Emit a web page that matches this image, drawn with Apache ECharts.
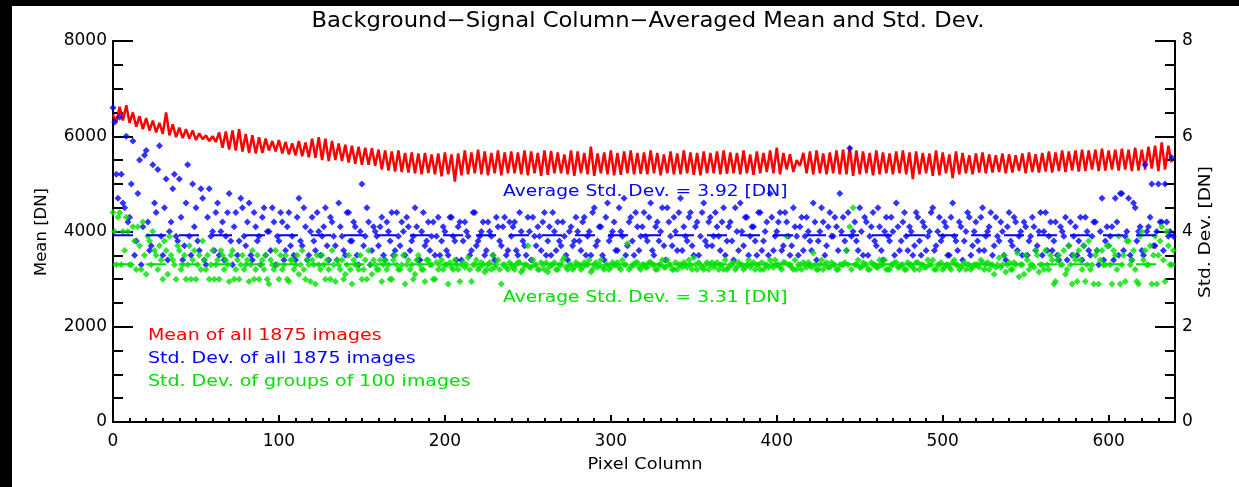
<!DOCTYPE html>
<html>
<head>
<meta charset="utf-8">
<script src="https://cdn.jsdelivr.net/npm/echarts@6/dist/echarts.min.js"></script>
<style>html,body{margin:0;padding:0;background:#fff}#c{width:1239px;height:487px}</style>
</head>
<body>
<div id="c"></div>
<script>
const xTickLabels = ['0','100','200','300','400','500','600'];
const leftTickLabels = ['0','2000','4000','6000','8000'];
const rightTickLabels = ['0','2','4','6','8'];

// Mean of all 1875 images [DN] (left axis), pixel columns 0,2,4,...,638
const meanDN = [
6450,6300,6620,6330,6650,6280,6500,6200,6420,6150,6380,6120,6330,6080,6280,6050,6500,6020,6250,5980,
6180,5960,6150,5950,6120,5920,6060,5940,6020,5900,6000,5880,6080,5760,6100,5720,6120,5700,6150,5680,
6050,5650,6020,5640,5980,5650,5950,5700,5900,5680,5920,5640,5880,5620,5850,5600,5900,5580,5870,5560,
5950,5550,5980,5500,5950,5480,5900,5500,5850,5480,5820,5450,5800,5420,5780,5400,5760,5400,5750,5380,
5720,5300,5700,5280,5680,5260,5700,5250,5650,5240,5660,5220,5640,5200,5650,5230,5620,5200,5640,5160,
5660,5200,5620,5050,5640,5180,5700,5200,5660,5220,5720,5200,5680,5180,5650,5220,5700,5180,5660,5220,
5680,5220,5660,5200,5700,5180,5680,5220,5650,5170,5700,5190,5690,5220,5660,5220,5620,5200,5700,5170,
5680,5220,5650,5200,5780,5170,5640,5220,5660,5200,5700,5180,5650,5190,5680,5220,5700,5200,5650,5210,
5660,5200,5700,5220,5650,5180,5620,5220,5680,5200,5640,5200,5700,5220,5660,5190,5650,5180,5680,5220,
5650,5220,5680,5200,5700,5210,5660,5220,5650,5200,5700,5220,5620,5190,5680,5220,5650,5250,5700,5220,
5760,5200,5650,5300,5620,5250,5500,5380,5650,5220,5680,5200,5700,5220,5640,5200,5660,5220,5700,5200,
5720,5200,5780,5170,5700,5200,5680,5220,5650,5180,5700,5200,5660,5220,5640,5200,5680,5220,5700,5200,
5660,5100,5680,5200,5650,5220,5640,5170,5700,5180,5660,5220,5620,5120,5680,5200,5650,5220,5600,5200,
5640,5240,5660,5220,5620,5240,5600,5250,5640,5220,5620,5240,5600,5270,5640,5220,5660,5250,5620,5240,
5650,5260,5680,5240,5660,5270,5700,5250,5680,5280,5700,5260,5720,5270,5700,5300,5720,5270,5740,5280,
5700,5300,5720,5280,5740,5300,5720,5270,5760,5280,5720,5300,5780,5320,5800,5270,5870,5300,5800,5450
];

// Std. Dev. of all 1875 images [DN] (right axis), even pixel columns 0,2,...,638
const stdAllEven = [
6.6,5.2,6.4,4.6,6.0,4.3,5.9,3.8,5.5,4.1,5.7,3.6,5.4,4.4,5.8,3.5,5.1,4.0,4.9,3.9,
5.1,3.4,4.6,3.9,5.0,4.5,3.6,4.7,3.3,4.9,4.0,4.4,3.5,4.2,3.9,4.8,3.3,4.4,3.8,4.5,
3.7,4.6,3.4,4.1,3.9,4.3,3.5,4.0,4.5,3.3,3.8,4.2,3.6,4.4,3.9,3.4,4.7,3.7,4.1,3.5,
4.3,3.6,4.0,3.9,4.5,3.4,4.2,3.7,4.6,3.9,3.5,4.4,3.8,4.1,3.3,5.0,3.9,4.2,3.6,4.0,
3.7,4.3,3.4,4.0,4.4,3.6,3.9,4.2,3.5,4.1,3.8,4.5,3.4,4.0,3.7,4.2,3.9,3.5,4.3,3.8,
4.0,3.5,4.3,3.8,4.1,3.4,4.2,3.9,3.6,4.4,3.8,4.0,3.5,4.2,3.9,3.4,4.1,3.7,4.3,3.6,
3.9,4.2,3.5,4.0,3.7,4.3,3.4,3.9,4.1,3.6,4.4,3.8,3.5,4.0,4.2,3.7,3.9,3.4,4.1,3.8,
4.0,3.6,4.3,3.9,3.5,4.5,3.8,4.1,3.4,4.6,3.9,4.2,3.6,4.0,4.7,3.7,4.3,3.5,4.1,3.9,
4.4,3.8,4.6,3.5,4.2,4.0,3.7,4.5,3.9,4.3,3.6,4.7,4.1,3.8,4.4,3.5,4.2,3.9,4.6,3.7,
4.3,3.9,4.1,3.6,4.5,3.8,4.2,3.4,4.0,4.6,3.7,4.3,3.9,4.1,3.5,4.4,3.8,4.2,4.8,3.6,
4.0,4.4,3.7,4.2,3.5,4.5,3.9,4.1,3.6,4.3,3.8,4.6,3.4,4.0,4.2,3.7,4.4,3.9,4.1,4.8,
4.3,3.6,5.75,4.0,3.8,4.5,3.5,4.2,3.9,4.4,3.7,4.1,3.4,4.3,3.8,4.0,4.6,3.6,4.2,3.9,
4.1,3.5,4.4,3.8,4.2,3.6,4.0,4.5,3.7,4.3,3.9,4.1,3.5,4.6,3.8,4.2,3.4,4.0,4.3,3.7,
4.2,3.6,4.5,3.9,4.1,3.5,4.3,3.8,4.0,3.4,4.4,3.7,4.2,3.9,3.5,4.1,3.8,4.3,3.6,4.0,
3.5,4.4,3.9,3.6,4.2,3.4,4.0,4.3,3.7,3.5,4.1,3.8,3.4,4.3,3.6,3.9,4.2,3.3,4.7,3.8,
3.7,4.1,4.7,3.5,4.8,3.9,4.7,3.4,4.5,4.0,3.6,5.4,4.1,5.0,3.7,5.0,4.2,5.0,3.9,5.55
];

// Std. Dev. of all 1875 images [DN] (right axis), odd pixel columns 1,3,...,639
const stdAllOdd = [
6.3,4.7,5.2,4.5,4.2,5.0,3.5,4.8,3.3,5.6,4.2,3.7,4.6,5.3,3.9,4.5,3.4,4.2,5.2,3.8,
4.3,3.7,5.4,3.5,4.1,3.8,4.9,3.4,4.3,3.9,3.6,4.6,4.0,3.4,4.4,3.8,4.1,3.5,4.7,3.9,
4.2,3.5,4.4,3.8,3.3,4.5,4.0,3.6,4.2,3.9,4.4,3.4,4.1,3.7,3.5,4.3,3.8,4.5,3.4,4.0,
3.8,4.4,3.5,4.1,3.7,4.3,3.9,3.4,4.1,3.6,4.4,3.8,4.2,3.5,4.0,3.7,4.5,3.3,4.1,3.9,
4.1,3.5,4.2,3.8,3.5,4.4,3.7,4.0,4.3,3.6,3.9,4.1,3.4,4.4,3.8,3.6,4.2,3.9,3.5,4.1,
3.6,4.3,3.9,3.4,4.2,3.8,4.0,3.5,4.4,3.7,3.9,4.2,3.6,4.0,3.5,4.3,3.8,4.1,3.5,4.2,
4.1,3.6,4.4,3.8,3.5,4.0,4.3,3.7,3.9,4.2,3.5,4.1,4.4,3.6,3.8,4.2,3.5,4.0,3.7,4.3,
3.8,4.2,3.5,4.0,4.4,3.7,4.1,3.5,4.3,3.8,4.0,3.6,4.5,3.9,3.5,4.2,3.8,4.4,3.6,4.1,
3.9,4.3,3.6,4.1,3.8,4.5,3.4,4.2,3.7,4.0,4.4,3.6,3.9,4.3,3.7,4.1,3.5,4.4,3.8,4.2,
3.7,4.4,3.9,4.2,3.5,4.1,3.8,4.5,3.6,4.0,4.3,3.5,4.1,3.8,4.4,3.6,4.0,3.5,4.3,3.9,
4.2,3.6,4.4,3.9,3.7,4.1,3.5,4.3,3.9,4.0,3.6,4.2,3.8,4.5,3.5,4.1,3.9,4.3,3.6,4.0,
3.8,4.4,3.9,4.2,3.6,4.0,4.3,3.5,4.1,3.8,4.5,3.6,4.0,3.9,4.3,3.5,4.1,3.8,4.4,3.6,
4.0,3.7,4.3,3.5,4.1,3.9,4.4,3.6,4.0,3.8,4.2,3.5,4.3,3.9,3.6,4.1,3.8,4.4,3.5,4.0,
3.8,4.3,3.6,4.0,4.4,3.7,3.9,4.2,3.5,4.1,3.8,4.3,3.6,4.0,4.2,3.5,3.9,4.1,3.7,4.4,
4.0,3.6,4.2,3.8,3.5,4.1,3.9,3.4,4.2,3.9,3.5,4.3,3.7,4.0,3.5,4.2,3.6,4.0,3.4,4.1,
3.9,3.4,4.2,4.8,3.6,4.0,3.5,4.6,3.8,4.1,3.5,4.0,4.3,3.7,4.0,4.2,3.6,4.2,4.0,3.9
];

// Std. Dev. of groups of 100 images [DN] (right axis), even pixel columns 0,2,...,638
const stdGroupsEven = [
4.4,3.3,4.4,4.0,4.3,3.3,4.1,3.2,3.7,4.2,3.1,3.8,4.0,3.5,3.7,3.0,3.6,3.9,3.4,3.0,
3.6,3.3,3.0,3.7,3.4,3.0,3.5,3.8,3.2,3.0,3.6,3.3,3.0,3.5,3.4,2.95,3.6,3.2,3.0,3.5,
3.3,2.95,3.6,3.2,3.0,3.4,3.5,2.9,3.3,3.6,3.0,3.2,3.5,2.95,3.4,3.3,3.1,3.6,3.0,3.3,
3.4,2.9,3.3,3.5,3.0,3.2,3.6,2.95,3.3,3.4,3.1,3.5,2.9,3.3,3.2,3.0,3.4,3.6,3.1,3.3,
3.2,2.95,3.4,3.3,3.0,3.5,3.2,3.3,2.9,3.4,3.3,3.1,3.5,3.2,2.95,3.4,3.3,3.0,3.2,3.4,
3.3,2.9,3.25,3.4,3.2,3.3,3.25,3.45,2.95,3.3,3.2,3.35,3.15,3.3,3.2,3.25,3.4,2.9,3.3,3.2,
3.3,3.2,3.35,3.15,3.3,3.7,3.25,3.3,3.2,3.35,3.2,3.15,3.3,3.35,3.2,3.3,3.45,3.2,3.3,3.25,
3.3,3.2,3.35,3.3,3.15,3.3,3.25,3.4,3.2,3.3,3.25,3.3,3.35,3.2,3.3,3.75,3.25,3.3,3.35,3.2,
3.3,3.25,3.35,3.3,3.2,3.3,3.25,3.4,3.3,3.2,3.2,3.3,3.35,3.25,3.3,3.45,3.2,3.3,3.2,3.35,
3.3,3.25,3.35,3.3,3.2,3.2,3.3,3.35,3.25,3.3,3.2,3.3,3.25,3.35,3.3,3.2,3.2,3.3,3.4,3.25,
3.3,3.25,3.35,3.9,3.3,3.2,3.2,3.3,3.35,3.25,3.3,3.55,3.2,3.3,3.2,3.35,3.25,3.3,3.2,3.3,
3.3,3.6,4.1,4.5,3.3,3.25,3.35,3.3,3.2,3.3,3.25,3.4,3.3,3.2,3.2,3.3,3.35,3.25,3.3,3.2,
3.3,3.25,3.35,3.2,3.3,3.25,3.3,3.4,3.2,3.3,3.2,3.3,3.25,3.35,3.3,3.2,3.3,3.2,3.3,3.25,
3.3,3.25,3.35,3.3,3.2,3.3,3.25,3.45,3.3,3.15,3.35,3.2,3.3,3.05,3.3,3.5,3.2,3.3,3.6,3.15,
3.3,3.6,3.2,3.4,2.95,3.5,3.3,3.1,3.7,2.9,3.4,3.6,3.2,2.95,3.8,3.3,3.5,2.9,3.6,3.3,
3.7,2.9,3.5,3.9,3.3,2.95,3.8,3.4,3.2,2.9,4.0,3.6,3.3,2.9,3.9,3.5,4.1,2.95,3.7,3.3
];

// Std. Dev. of groups of 100 images [DN] (right axis), odd pixel columns 1,3,...,639
const stdGroupsOdd = [
4.0,4.3,3.3,3.6,4.0,3.3,3.8,4.1,3.2,3.5,3.9,3.3,3.6,3.2,3.4,3.8,3.1,3.5,3.3,3.7,
3.2,3.5,3.3,3.0,3.6,3.3,3.2,3.4,3.5,3.3,3.0,3.4,3.6,3.2,3.3,3.5,3.0,3.4,3.3,3.2,
3.4,3.3,3.0,3.5,3.3,3.2,3.0,3.4,3.2,3.3,3.5,3.3,3.0,3.4,3.2,3.5,3.3,3.2,3.4,2.95,
3.3,3.5,3.2,3.3,3.4,3.0,3.3,3.4,3.2,3.0,3.3,3.2,3.4,3.3,3.5,3.2,3.0,3.3,3.4,3.2,
3.4,3.3,3.2,3.0,3.4,3.3,3.2,3.5,3.3,3.2,3.0,3.4,3.3,3.2,3.4,3.3,3.0,3.35,3.3,3.2,
3.3,3.35,3.2,3.3,2.95,3.35,3.3,3.2,3.3,3.4,3.25,3.3,3.2,3.35,3.5,3.3,3.2,3.3,3.25,3.35,
3.25,3.3,3.35,3.2,3.3,3.25,3.4,3.3,3.2,3.3,3.35,3.25,3.3,3.2,3.3,3.4,3.25,3.3,3.2,3.35,
3.3,3.25,3.3,3.4,3.2,3.35,3.3,3.25,3.3,3.2,3.35,3.3,3.25,3.4,3.3,3.2,3.3,3.35,3.25,3.3,
3.25,3.35,3.3,3.2,3.3,3.4,3.25,3.3,3.2,3.35,3.3,3.25,3.3,3.4,3.2,3.3,3.35,3.25,3.3,3.2,
3.35,3.3,3.2,3.3,3.4,3.25,3.3,3.2,3.35,3.3,3.25,3.4,3.3,3.2,3.3,3.35,3.3,3.25,3.3,3.4,
3.3,3.2,3.35,3.3,3.25,3.4,3.3,3.2,3.3,3.35,3.25,3.3,3.2,3.4,3.3,3.25,3.35,3.3,3.2,3.3,
3.35,3.3,3.2,3.3,3.4,3.25,3.3,3.2,3.35,3.3,3.25,3.3,3.4,3.2,3.3,3.35,3.25,3.3,3.2,3.35,
3.3,3.2,3.35,3.3,3.25,3.4,3.3,3.2,3.3,3.35,3.25,3.3,3.2,3.4,3.3,3.25,3.35,3.3,3.2,3.3,
3.3,3.4,3.2,3.35,3.3,3.1,3.3,3.25,3.5,3.3,3.2,3.35,3.55,3.3,3.1,3.4,3.3,3.25,3.5,3.3,
3.2,3.3,3.5,2.9,3.4,3.3,3.6,3.2,3.3,3.5,2.95,3.4,3.7,3.3,3.2,2.9,3.6,3.4,3.3,3.7,
3.3,3.6,3.2,2.9,3.5,3.8,3.3,3.6,2.95,3.9,3.4,3.3,3.7,3.5,2.9,3.8,3.4,4.0,3.3,3.6
];

const avgStdAll = 3.92;
const avgStdGroups = 3.31;
const xRange = [0, 640];

const FONT = 'DejaVu Sans';
const evenPairs = arr => arr.map((v, i) => [2 * i, v]);
const oddPairs = arr => arr.map((v, i) => [2 * i + 1, v]);

const chart = echarts.init(document.getElementById('c'), null, {renderer: 'canvas'});
const axisLineStyle = {color: '#000', width: 2};
const tickStyle = {color: '#000', width: 2};

function label(text, x, y, color, size, sx, align, rot) {
  return {type: 'text', x: x, y: y, rotation: rot || 0, scaleX: sx, scaleY: 1, z: 50,
    style: {text: text, fill: color, font: size + 'px "' + FONT + '"', textAlign: align, textVerticalAlign: 'middle'}};
}

const option = {
  backgroundColor: '#fff',
  animation: false,
  grid: {left: 113, right: 64, top: 41, bottom: 65},
  xAxis: [{
    type: 'value', min: xRange[0], max: xRange[1], interval: 100, position: 'bottom',
    axisLine: {show: true, onZero: false, lineStyle: axisLineStyle},
    axisTick: {inside: true, length: 7, lineStyle: tickStyle},
    axisLabel: {color: '#000', fontFamily: FONT, fontSize: 17, margin: 11, showMaxLabel: false,
      formatter: v => xTickLabels.indexOf(String(v)) >= 0 ? String(v) : ''},
    splitLine: {show: false}
  }, {
    type: 'value', min: xRange[0], max: xRange[1], interval: 10, position: 'bottom',
    axisLine: {show: true, onZero: false, lineStyle: axisLineStyle},
    axisTick: {inside: true, length: 4, lineStyle: tickStyle},
    axisLabel: {show: false},
    splitLine: {show: false}
  }],
  yAxis: [{
    type: 'value', min: 0, max: 8000, interval: 2000, position: 'left',
    axisLine: {show: true, onZero: false, lineStyle: axisLineStyle},
    axisTick: {show: true, inside: true, length: 20, lineStyle: tickStyle},
    axisLabel: {color: '#000', fontFamily: FONT, fontSize: 17, margin: 6,
      formatter: v => leftTickLabels.indexOf(String(v)) >= 0 ? String(v) : ''},
    splitLine: {show: false}
  }, {
    type: 'value', min: 0, max: 8, interval: 2, position: 'right',
    axisLine: {show: true, onZero: false, lineStyle: axisLineStyle},
    axisTick: {show: true, inside: true, length: 20, lineStyle: tickStyle},
    axisLabel: {color: '#000', fontFamily: FONT, fontSize: 17, margin: 7,
      formatter: v => rightTickLabels.indexOf(String(v)) >= 0 ? String(v) : ''},
    splitLine: {show: false}
  }, {
    type: 'value', min: 0, max: 8000, interval: 500, position: 'left',
    axisLine: {show: true, onZero: false, lineStyle: axisLineStyle},
    axisTick: {show: true, inside: true, length: 10, lineStyle: tickStyle},
    axisLabel: {show: false}, splitLine: {show: false}
  }, {
    type: 'value', min: 0, max: 8, interval: 0.5, position: 'right',
    axisLine: {show: true, onZero: false, lineStyle: axisLineStyle},
    axisTick: {show: true, inside: true, length: 10, lineStyle: tickStyle},
    axisLabel: {show: false}, splitLine: {show: false}
  }],
  series: [{
    name: 'Mean of all 1875 images', type: 'line', xAxisIndex: 0, yAxisIndex: 0,
    data: evenPairs(meanDN), showSymbol: false, symbol: 'none',
    lineStyle: {color: '#ff0000', width: 2.5}, z: 2
  }, {
    name: 'Std. Dev. of all 1875 images', type: 'scatter', xAxisIndex: 0, yAxisIndex: 1,
    data: evenPairs(stdAllEven).concat(oddPairs(stdAllOdd)), symbol: 'diamond', symbolSize: 7,
    itemStyle: {color: '#0000ff'}, z: 3
  }, {
    name: 'Std. Dev. of groups of 100 images', type: 'scatter', xAxisIndex: 0, yAxisIndex: 1,
    data: evenPairs(stdGroupsEven).concat(oddPairs(stdGroupsOdd)), symbol: 'diamond', symbolSize: 7,
    itemStyle: {color: '#00e000'}, z: 4
  }, {
    name: 'avgAll', type: 'line', xAxisIndex: 0, yAxisIndex: 1,
    data: [[xRange[0], avgStdAll], [xRange[1], avgStdAll]], symbol: 'none',
    lineStyle: {color: '#0000ff', width: 2, type: [20, 13]}, z: 5
  }, {
    name: 'avgGroups', type: 'line', xAxisIndex: 0, yAxisIndex: 1,
    data: [[xRange[0], avgStdGroups], [xRange[1], avgStdGroups]], symbol: 'none',
    lineStyle: {color: '#00e000', width: 2, type: [20, 13]}, z: 5
  }],
  graphic: [
    {type: 'rect', left: 0, top: 0, shape: {width: 1239, height: 6}, style: {fill: '#000'}, z: 100},
    {type: 'rect', left: 0, top: 0, shape: {width: 12, height: 487}, style: {fill: '#000'}, z: 100},
    label('Background\u2212Signal Column\u2212Averaged Mean and Std. Dev.', 648, 22, '#000', 21, 1.08, 'center'),
    label('Mean [DN]', 42, 232, '#000', 16.5, 1.0, 'center', Math.PI / 2),
    label('Std. Dev. [DN]', 1206, 232, '#000', 16.5, 1.12, 'center', Math.PI / 2),
    label('Pixel Column', 645, 465, '#000', 16.5, 1.08, 'center'),
    label('Average Std. Dev. = ' + avgStdAll.toFixed(2) + ' [DN]', 503, 192, '#0000ff', 16.5, 1.13, 'left'),
    label('Average Std. Dev. = ' + avgStdGroups.toFixed(2) + ' [DN]', 503, 298, '#00e000', 16.5, 1.13, 'left'),
    label('Mean of all 1875 images', 148, 336, '#ff0000', 16.5, 1.15, 'left'),
    label('Std. Dev. of all 1875 images', 148, 359, '#0000ff', 16.5, 1.15, 'left'),
    label('Std. Dev. of groups of 100 images', 148, 382, '#00e000', 16.5, 1.15, 'left')
  ]
};
chart.setOption(option);
</script>
</body>
</html>
